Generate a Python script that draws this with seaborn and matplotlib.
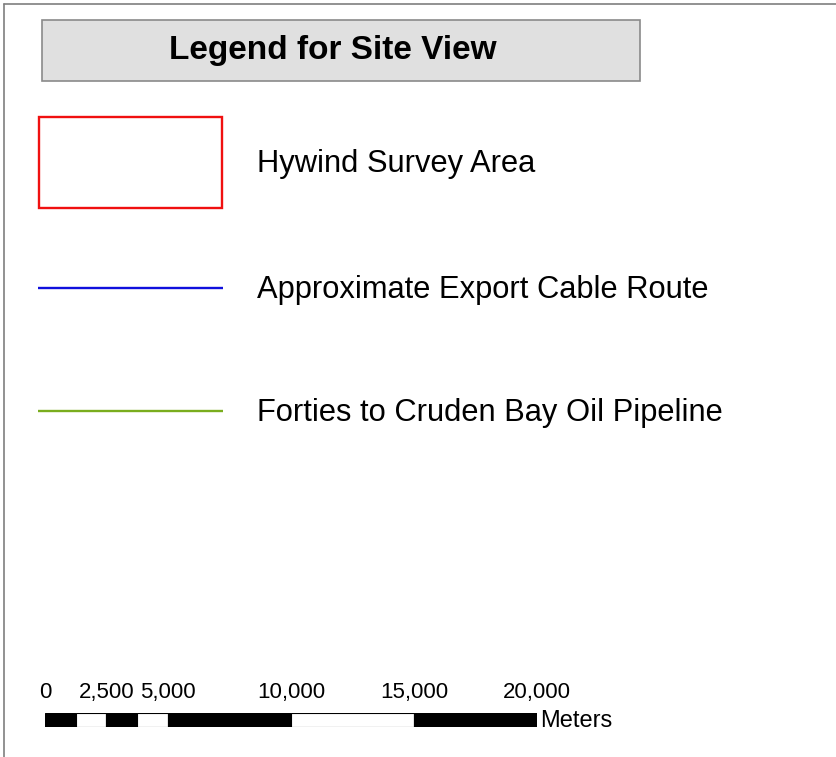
import matplotlib
matplotlib.use("Agg")
import matplotlib.pyplot as plt
import seaborn as sns

# legend content
title = "Legend for Site View"
item_labels = ["Hywind Survey Area", "Approximate Export Cable Route",
               "Forties to Cruden Bay Oil Pipeline"]
item_kinds = ["box", "line", "line"]
item_colors = ["#f01010", "#1010dd", "#7aad1e"]

# scale bar (meters)
seg_starts = [0, 1250, 2500, 3750, 5000, 10000, 15000]
seg_widths = [1250, 1250, 1250, 1250, 5000, 5000, 5000]
seg_colors = ["black", "white", "black", "white", "black", "white", "black"]
tick_values = [0, 2500, 5000, 10000, 15000, 20000]
tick_labels = ["0", "2,500", "5,000", "10,000", "15,000", "20,000"]
units = "Meters"

sns.set_theme(style="white")
plt.rcParams["font.family"] = ["Liberation Sans", "DejaVu Sans"]
plt.rcParams["text.color"] = "black"

W, H = 837, 757
fig = plt.figure(figsize=(W / 100, H / 100), dpi=100)
ax = fig.add_axes([0, 0, 1, 1])
ax.set_xlim(0, W)
ax.set_ylim(H, 0)
ax.axis("off")

# outer frame (top and left edges)
ax.plot([4, W], [4, 4], color="#7f7f7f", lw=1.2)
ax.plot([4, 4], [4, H], color="#7f7f7f", lw=1.2)

# title box
ax.add_patch(plt.Rectangle((42, 20), 598, 61, facecolor="#e0e0e0",
                           edgecolor="#8a8a8a", lw=1.2))
ax.text(333, 50, title, fontsize=24, fontweight="bold", ha="center",
        va="center", color="black")

# legend items
row_y = [162, 288, 411]
for lab, kind, col, y in zip(item_labels, item_kinds, item_colors, row_y):
    if kind == "box":
        ax.add_patch(plt.Rectangle((39, 116.5), 183, 91.5, facecolor="none",
                                   edgecolor=col, lw=1.7))
    else:
        ax.plot([38, 223.5], [y, y], color=col, lw=1.7, solid_capstyle="butt")
    ax.text(257, y + 2, lab, fontsize=22.2, ha="left", va="center", color="black")

# scale bar axes in meters
x0, x1 = 45, 537
yb0, yb1 = 713, 727
ax_s = fig.add_axes([x0 / W, (H - yb1) / H, (x1 - x0) / W, (yb1 - yb0) / H])
ax_s.barh(0.5, seg_widths, left=seg_starts, height=1, color=seg_colors,
          edgecolor="black", linewidth=0.8)
ax_s.set_xlim(0, 20000)
ax_s.set_ylim(0, 1)
ax_s.axis("off")
for v, t in zip(tick_values, tick_labels):
    ax_s.annotate(t, (v, 1), xytext=(0, 7), textcoords="offset points",
                  ha="center", va="bottom", fontsize=16, color="black",
                  annotation_clip=False)
ax_s.annotate(units, (20000, 0.5), xytext=(2, -1), textcoords="offset points",
              ha="left", va="center", fontsize=17, color="black",
              annotation_clip=False)

fig.savefig("out.png", dpi=100)
